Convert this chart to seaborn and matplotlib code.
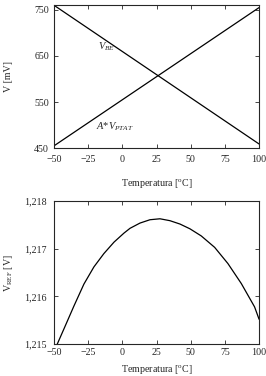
import numpy as np
import pandas as pd
import seaborn as sns
import matplotlib
matplotlib.use("Agg")
import matplotlib.pyplot as plt

# top panel: V_BE and A*V_PTAT vs temperature (straight lines, read at the ends)
temp_lin = [-50, 100]
vbe = [760, 459]
vptat = [455, 755]

# bottom panel: V_REF
temp_ref = [-50, -47.6, -42.7, -35.4, -28.1, -20.8, -13.5, -6.1, 1.2, 5.6, 12.9, 20.2,
            27.5, 34.8, 42.1, 49.4, 57.7, 67.5, 77.2, 87.0, 96.7, 100]
vref = [1.21486, 1.21500, 1.21532, 1.21580, 1.21626, 1.21662, 1.21690, 1.21714, 1.21733,
        1.21743, 1.21754, 1.21761, 1.21763, 1.21759, 1.21752, 1.21742, 1.21727, 1.21703,
        1.21669, 1.21627, 1.21578, 1.21552]

x_ticks = [-50, -25, 0, 25, 50, 75, 100]
top_yticks = [450, 550, 650, 750]
bot_yticks = [1.215, 1.216, 1.217, 1.218]

sns.set_style("ticks")
plt.rcParams["font.family"] = ["Liberation Serif", "DejaVu Serif"]
plt.rcParams["mathtext.fontset"] = "custom"
plt.rcParams["mathtext.rm"] = "Liberation Serif"
plt.rcParams["mathtext.it"] = "Liberation Serif:italic"
plt.rcParams["font.size"] = 7.2

fig = plt.figure(figsize=(2.66, 3.76), dpi=100)
ax1 = fig.add_axes([0.203, 0.606, 0.771, 0.380])
ax2 = fig.add_axes([0.203, 0.085, 0.771, 0.380])

top = pd.DataFrame({"T": temp_lin, "vbe": vbe, "vptat": vptat})
sns.lineplot(data=top, x="T", y="vbe", ax=ax1, color="black", lw=0.9)
sns.lineplot(data=top, x="T", y="vptat", ax=ax1, color="black", lw=0.9)
ax1.set_xlim(-50, 100)
ax1.set_ylim(450, 760)
ax1.set_yticks(top_yticks)
ax1.set_xticks(x_ticks)
ax1.set_xlabel("Temperatura [$^{\\mathrm{o}}$C]")
ax1.set_ylabel("V [mV]")
ax1.xaxis.set_label_coords(0.5, -0.2)
ax1.yaxis.set_label_coords(-0.2, 0.5)
ax1.text(-18, 664, "$V_{BE}$", fontsize=7.5)
ax1.text(-19, 490, "$A$*$V_{PTAT}$", fontsize=7.5)
ax1.tick_params(axis="x", pad=5)
ax1.tick_params(axis="y", pad=3.5)

bot = pd.DataFrame({"T": temp_ref, "vref": vref})
sns.lineplot(data=bot, x="T", y="vref", ax=ax2, color="black", lw=0.9)
ax2.set_xlim(-50, 100)
ax2.set_ylim(1.215, 1.218)
ax2.set_yticks(bot_yticks)
ax2.set_yticklabels([f"{v:.3f}".replace(".", ",") for v in bot_yticks])
ax2.set_xticks(x_ticks)
ax2.set_xlabel("Temperatura [$^{\\mathrm{o}}$C]")
ax2.set_ylabel("$\\mathrm{V_{REF}}$ [V]")
ax2.xaxis.set_label_coords(0.5, -0.135)
ax2.yaxis.set_label_coords(-0.19, 0.5)
ax2.tick_params(axis="x", pad=3)
ax2.tick_params(axis="y", pad=5.5)

for ax in (ax1, ax2):
    ax.tick_params(direction="in", top=True, right=True, length=3, width=0.6, labelsize=7.2)
    for s in ax.spines.values():
        s.set_linewidth(0.8)

fig.savefig("out.png", dpi=100)
